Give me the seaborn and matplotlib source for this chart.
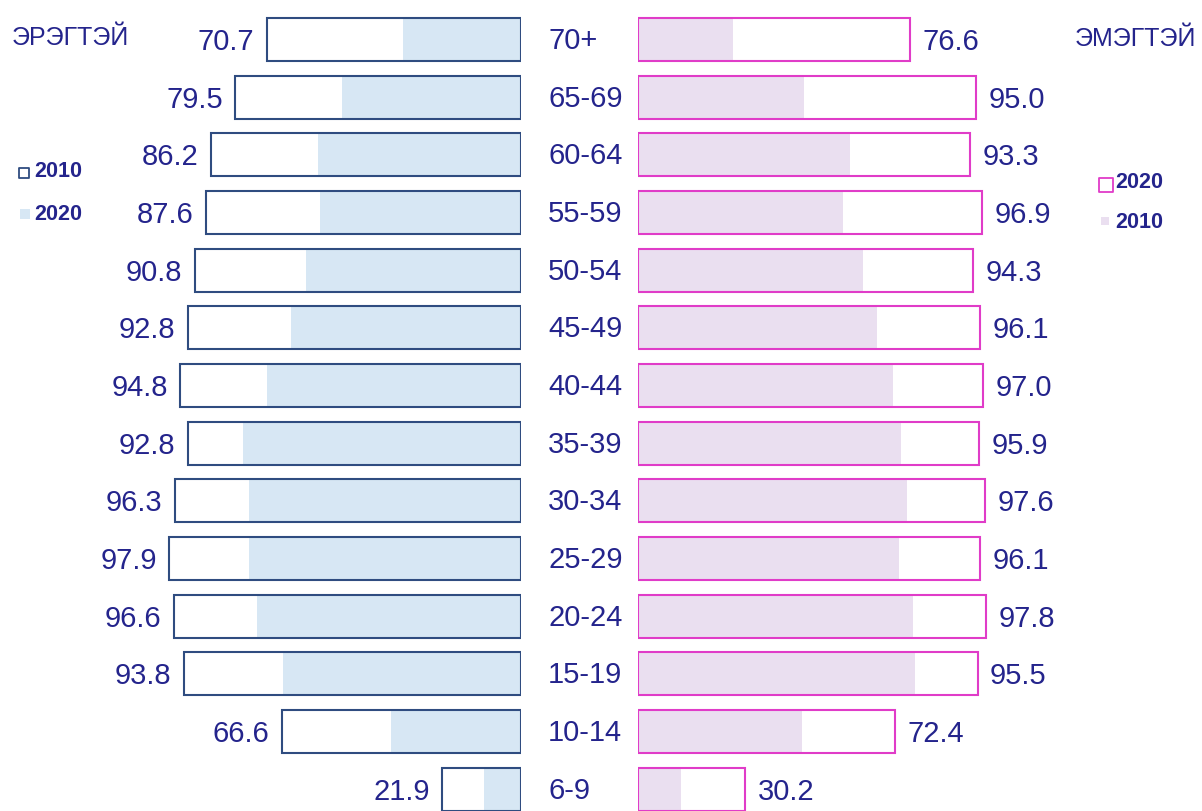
import matplotlib
matplotlib.use("Agg")
import matplotlib.pyplot as plt
import matplotlib.transforms as mtransforms
import seaborn as sns
import pandas as pd

# ---- data ----
ages = ["70+", "65-69", "60-64", "55-59", "50-54", "45-49", "40-44",
        "35-39", "30-34", "25-29", "20-24", "15-19", "10-14", "6-9"]
male_2010 = [70.7, 79.5, 86.2, 87.6, 90.8, 92.8, 94.8,
             92.8, 96.3, 97.9, 96.6, 93.8, 66.6, 21.9]
male_2020 = [32.9, 49.7, 56.4, 55.8, 59.7, 64.1, 70.7,
             77.3, 75.7, 75.7, 73.4, 66.3, 36.1, 10.2]
female_2020 = [76.6, 95.0, 93.3, 96.9, 94.3, 96.1, 97.0,
               95.9, 97.6, 96.1, 97.8, 95.5, 72.4, 30.2]
female_2010 = [26.7, 46.7, 59.5, 57.8, 63.4, 67.3, 71.7,
               73.9, 75.7, 73.4, 77.4, 77.8, 46.1, 12.1]
title_left = "ЭРЭГТЭЙ"
title_right = "ЭМЭГТЭЙ"

# ---- style ----
sns.set_style("white")
plt.rcParams["font.family"] = ["Liberation Sans", "DejaVu Sans"]

TXT = "#24248C"
L_EDGE = "#2F4C80"
L_FILL = "#D7E7F4"
R_EDGE = "#E03CC8"
R_FILL = "#EADFF0"

W, H = 1202, 811
fig = plt.figure(figsize=(W / 100, H / 100), dpi=100)

zero_L = 520.8
zero_R = 638.0
scale_L = 3.59
scale_R = 3.555
row0 = 39.5
pitch = 57.67
ylim = ((H - row0) / pitch, -row0 / pitch)

axL = fig.add_axes([0, 0, zero_L / W, 1])
axR = fig.add_axes([zero_R / W, 0, (W - zero_R) / W, 1])

dfL = pd.DataFrame({"age": ages, "v2010": male_2010, "v2020": male_2020})
dfR = pd.DataFrame({"age": ages, "v2020": female_2020, "v2010": female_2010})

# left (men): filled = 2020, outline = 2010
sns.barplot(data=dfL, x="v2020", y="age", order=ages, orient="h", ax=axL,
            color=L_FILL, saturation=1, width=0.71, linewidth=0, errorbar=None)
sns.barplot(data=dfL, x="v2010", y="age", order=ages, orient="h", ax=axL,
            color=L_EDGE, saturation=1, width=0.745, linewidth=1.5,
            fill=False, errorbar=None)
# right (women): filled = 2010, outline = 2020
sns.barplot(data=dfR, x="v2010", y="age", order=ages, orient="h", ax=axR,
            color=R_FILL, saturation=1, width=0.71, linewidth=0, errorbar=None)
sns.barplot(data=dfR, x="v2020", y="age", order=ages, orient="h", ax=axR,
            color=R_EDGE, saturation=1, width=0.745, linewidth=1.5,
            fill=False, errorbar=None)

axL.set_xlim(zero_L / scale_L, 0)
axR.set_xlim(0, (W - zero_R) / scale_R)
for ax in (axL, axR):
    ax.set_ylim(*ylim)
    ax.set_axis_off()

FS = 21
px = 0.72  # points per pixel
for i, a in enumerate(ages):
    axL.annotate(f"{male_2010[i]:.1f}", xy=(male_2010[i], i),
                 xytext=(-12.5 * px, -10.5 * px), textcoords="offset points",
                 ha="right", va="baseline", fontsize=FS, color=TXT)
    axR.annotate(f"{female_2020[i]:.1f}", xy=(female_2020[i], i),
                 xytext=(12.5 * px, -10.5 * px), textcoords="offset points",
                 ha="left", va="baseline", fontsize=FS, color=TXT)

trans = mtransforms.blended_transform_factory(fig.transFigure, axL.transData)
for i, a in enumerate(ages):
    fig.text(548 / W, i, a, transform=trans + mtransforms.ScaledTranslation(0, -9.5 / 100, fig.dpi_scale_trans),
             ha="left", va="baseline", fontsize=FS, color=TXT)

def fy(p):
    return 1 - p / H

fig.text(12 / W, fy(45), title_left, ha="left", va="baseline", fontsize=18, color=TXT)
fig.text(1196 / W, fy(46.5), title_right, ha="right", va="baseline", fontsize=18, color=TXT)

# legends
LF = 15.5
axF = fig.add_axes([0, 0, 1, 1])
axF.set_xlim(0, W)
axF.set_ylim(H, 0)
axF.set_axis_off()
axF.patch.set_alpha(0)
axF.scatter([24.3], [172.5], s=60, marker="s", facecolors="white", edgecolors=L_EDGE, linewidths=1.3)
axF.scatter([24.5], [213.5], s=42, marker="s", color=L_FILL, linewidths=0)
axF.scatter([1105.5], [184.5], s=100, marker="s", facecolors="white", edgecolors=R_EDGE, linewidths=1.3)
axF.scatter([1105], [221], s=34, marker="s", color=R_FILL, linewidths=0)
fig.text(34 / W, fy(176.7), "2010", ha="left", va="baseline", fontsize=LF, fontweight="bold", color=TXT)
fig.text(34 / W, fy(220), "2020", ha="left", va="baseline", fontsize=LF, fontweight="bold", color=TXT)
fig.text(1115 / W, fy(188.3), "2020", ha="left", va="baseline", fontsize=LF, fontweight="bold", color=TXT)
fig.text(1115 / W, fy(228.3), "2010", ha="left", va="baseline", fontsize=LF, fontweight="bold", color=TXT)

fig.savefig("out.png", dpi=100, facecolor="white")
